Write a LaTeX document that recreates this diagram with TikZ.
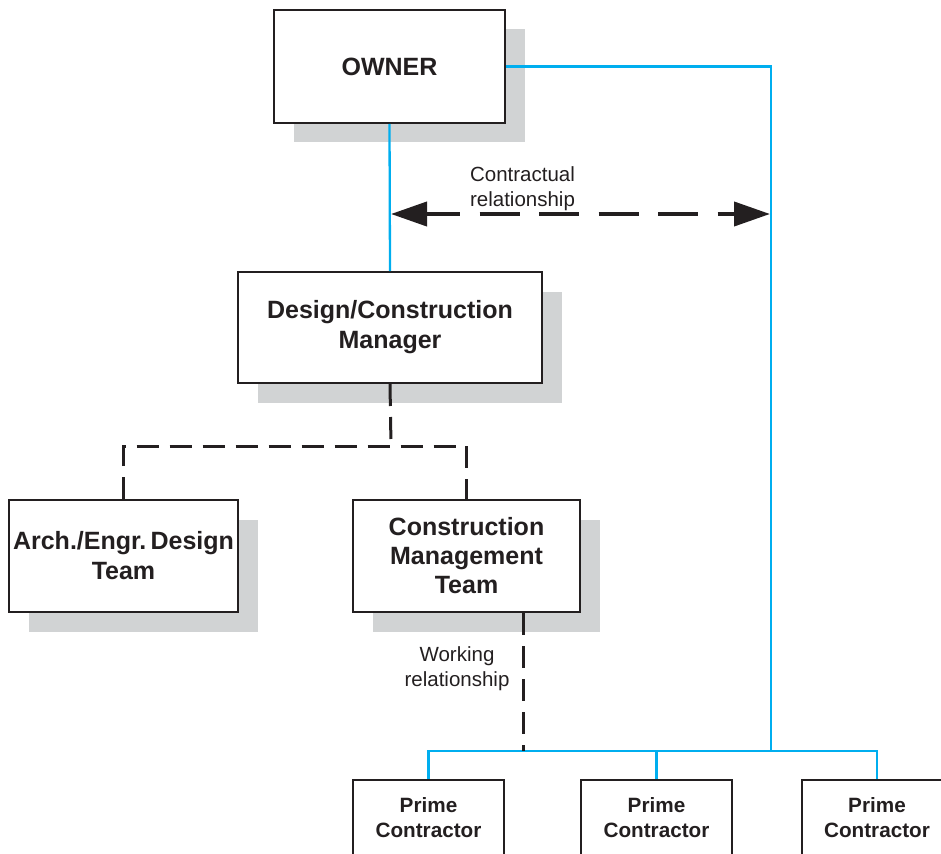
\documentclass[tikz,border=0pt]{standalone}
\usepackage{fontspec}
\setmainfont{Liberation Sans}
\usetikzlibrary{arrows.meta,shadows}
\definecolor{ink}{RGB}{35,31,32}
\definecolor{wire}{RGB}{0,174,239}
\definecolor{shade}{RGB}{209,211,212}

\begin{document}
\begin{tikzpicture}[x=1pt,y=-1pt,
  box/.style={draw=ink, line width=2pt, fill=white, text=ink, align=center,
    inner sep=0pt, font=\bfseries\fontsize{25}{30}\selectfont,
    drop shadow={shadow xshift=19.5pt, shadow yshift=-19.5pt, opacity=1, fill=shade}},
  primebox/.style={draw=ink, line width=2pt, fill=white, text=ink, align=center,
    inner sep=0pt, minimum width=151pt, minimum height=76pt,
    font=\bfseries\fontsize{20.7}{25}\selectfont},
  note/.style={text=ink, align=center, inner sep=0pt,
    font=\fontsize{20.5}{25}\selectfont},
  wireline/.style={draw=wire, line width=2.3pt},
  link/.style={draw=ink, line width=3pt, dash pattern=on 22pt off 11pt},
  contractarrow/.style={draw=ink, line width=4pt,
    dash pattern=on 40pt off 19.5pt, dash phase=6pt,
    {Triangle[length=36pt,width=24pt]}-{Triangle[length=36pt,width=24pt]}}
]
\useasboundingbox (0,0) rectangle (941,853);
\clip (0,0) rectangle (941,853);

% organisation boxes
\node[box, minimum width=231pt, minimum height=113pt] (owner) at (389.5,66.5) {OWNER};
\node[box, minimum width=304pt, minimum height=111pt] (dcm) at (390,327.5) {Design/Construction\\Manager};
\node[box, minimum width=229pt, minimum height=112pt] (aed) at (123.5,556) {Arch./Engr.\,Design\\Team};
\node[box, minimum width=227pt, minimum height=112pt, font=\bfseries\fontsize{25}{29}\selectfont] (cmt) at (466.5,556) {Construction\\Management\\Team};

% prime contractors
\node[primebox] (p1) at (428.5,818) {Prime\\Contractor};
\node[primebox] (p2) at (656.5,818) {Prime\\Contractor};
\node[primebox] (p3) at (877,818) {Prime\\Contractor};

% contract lines (blue)
\coordinate (bus) at (771,751);
\draw[wireline] (owner.east) -| (bus);
\draw[wireline] (owner.south) -- (dcm.north);
\draw[wireline] (p1.north) |- (bus);
\draw[wireline] (p3.north) |- (bus);
\draw[wireline] (p2.north) -- (p2.north |- bus);

% contractual relationship arrow
\coordinate (cl) at (391,214);
\coordinate (cr) at (770,214);
\draw[contractarrow] (cl) -- (cr);
\node[note] (contract) at (522.5,189) {Contractual\\relationship};

% design/construction manager team links
\coordinate (split) at (391,446);
\coordinate (splitL) at (123.5,446);
\coordinate (splitR) at (466.5,446);
\draw[link] (dcm.south) -- (split);
\draw[link] (aed.north) -- (splitL) -- (splitR) -- (cmt.north);

% working relationship
\coordinate (wbot) at (523,751);
\draw[link] ([xshift=56.5pt]cmt.south) -- (wbot);
\node[note] (working) at (457,669) {Working\\relationship};
\end{tikzpicture}
\end{document}
